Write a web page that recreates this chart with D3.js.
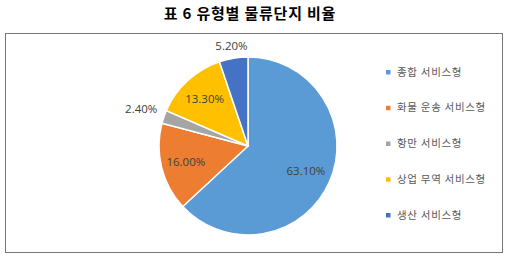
<!DOCTYPE html>
<html>
<head>
<meta charset="utf-8">
<script src="https://cdn.jsdelivr.net/npm/d3@7"></script>
<style>
  body { margin: 0; background: #fff; }
  svg { display: block; }
</style>
</head>
<body>
<script>
const title = "표 6 유형별 물류단지 비율";
const categories = ["종합 서비스형", "화물 운송 서비스형", "항만 서비스형", "상업 무역 서비스형", "생산 서비스형"];
const values = [63.1, 16.0, 2.4, 13.3, 5.2];
const colours = ["#5b9bd5", "#ed7d31", "#a5a5a5", "#ffc000", "#4472c4"];

const wb = 511;
const hb = 260;
const frame = { left: 5.5, top: 33.5, right: 502.5, bottom: 252.5 };
const centre = { x: 248, y: 146 };
const radius = 89;

const svg = d3.select("body")
    .append("svg")
    .attr("width", wb)
    .attr("height", hb);

// title
svg.append("text")
    .attr("x", 250)
    .attr("y", 19)
    .attr("text-anchor", "middle")
    .style("font-family", "'Noto Sans CJK KR'")
    .style("font-weight", "bold")
    .style("font-size", "15px")
    .style("letter-spacing", "0.8px")
    .attr("fill", "#000")
    .text(title);

// chart frame
svg.append("rect")
    .attr("x", frame.left)
    .attr("y", frame.top)
    .attr("width", frame.right - frame.left)
    .attr("height", frame.bottom - frame.top)
    .attr("fill", "none")
    .attr("stroke", "#767676")
    .attr("stroke-width", 1);

const pie = d3.pie().sort(null)(values);
const arc = d3.arc().innerRadius(0).outerRadius(radius);

const g = svg.append("g")
    .attr("transform", `translate(${centre.x}, ${centre.y})`);

g.selectAll("path")
    .data(pie)
    .join("path")
    .attr("d", arc)
    .attr("fill", (d, i) => colours[i])
    .attr("stroke", "#fff")
    .attr("stroke-width", 1.5);

// label radius factor per slice (small slices get their label outside)
const label_r = [0.71, 0.72, 1.27, 0.72, 1.14];
g.selectAll("text")
    .data(pie)
    .join("text")
    .attr("transform", (d, i) => {
        const a = (d.startAngle + d.endAngle) / 2;
        const r = radius * label_r[i];
        return `translate(${Math.sin(a) * r}, ${-Math.cos(a) * r})`;
    })
    .attr("text-anchor", "middle")
    .attr("dy", "0.35em")
    .style("font-family", "'Open Sans'")
    .style("font-size", "11.5px")
    .attr("fill", "#404040")
    .text(d => d.data.toFixed(2) + "%");

// legend
const ly = d3.scalePoint()
    .domain(categories)
    .range([72, 215]);

const legend = svg.append("g")
    .selectAll("g")
    .data(categories)
    .join("g")
    .attr("transform", d => `translate(386, ${ly(d)})`);

legend.append("rect")
    .attr("x", 0)
    .attr("y", -2)
    .attr("width", 4.5)
    .attr("height", 4.5)
    .attr("fill", (d, i) => colours[i]);

legend.append("text")
    .attr("x", 11)
    .attr("dy", "0.35em")
    .style("font-family", "'Noto Sans CJK KR'")
    .style("font-size", "10.5px")
    .style("letter-spacing", "0.7px")
    .attr("fill", "#595959")
    .text(d => d);
</script>
</body>
</html>
